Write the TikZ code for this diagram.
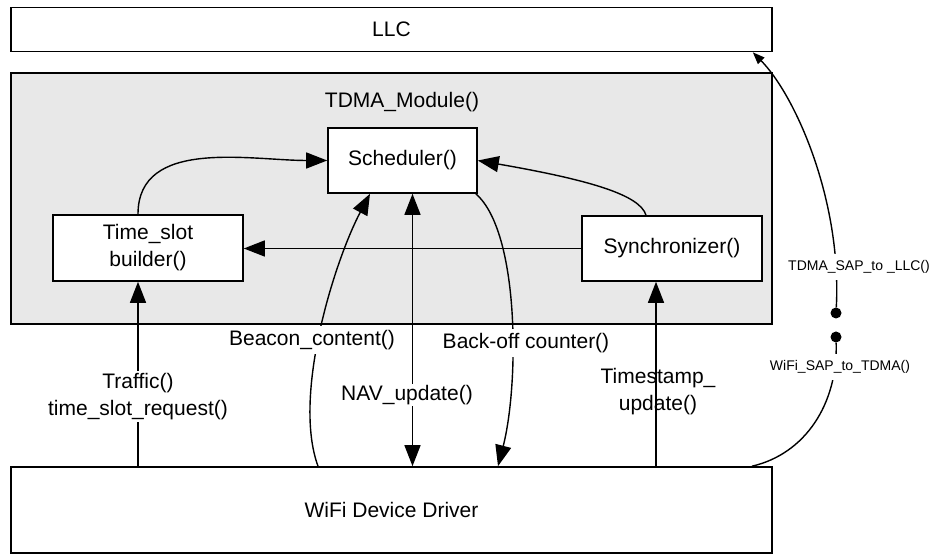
\documentclass[tikz,border=0pt]{standalone}
\usepackage{fontspec}
\setmainfont{Liberation Sans}
\usetikzlibrary{arrows.meta}
\definecolor{modgray}{RGB}{232,232,232}
\begin{document}
\begin{tikzpicture}[x=1pt,y=1pt,
  font=\fontsize{21}{27}\selectfont,
  box/.style={draw, line width=1.6pt, fill=white, inner sep=0pt, align=center},
  conn/.style={line width=1.4pt},
  bigtip/.style={-{Triangle[length=21pt,width=16pt]}},
  bothtip/.style={{Triangle[length=21pt,width=16pt]}-{Triangle[length=21pt,width=16pt]}},
  smalltip/.style={-{Triangle[length=12pt,width=9pt]}},
  lbl/.style={fill=white, inner sep=3pt, align=center},
  smalllbl/.style={fill=white, inner sep=6pt, font=\fontsize{14}{17}\selectfont},
  dot/.style={circle, fill=black, inner sep=0pt, minimum size=11pt}
]
\useasboundingbox (0,0) rectangle (932,554);
% containers and boxes
\node[draw, line width=1.6pt, fill=modgray, minimum width=761pt, minimum height=251pt] (mod) at (391.5,355.5) {};
\node (modlabel) at (402,452) {TDMA\_Module()};
\node[box, minimum width=761pt, minimum height=44pt] (llc) at (391.5,524.5) {LLC};
\node[box, minimum width=149pt, minimum height=65pt] (sched) at (402.5,393.5) {Scheduler()};
\node[box, minimum width=190pt, minimum height=66pt] (ts) at (148,306) {Time\_slot\\builder()};
\node[box, minimum width=180pt, minimum height=65pt] (sync) at (672,305.5) {Synchronizer()};
\node[box, minimum width=761pt, minimum height=86pt] (wifi) at (391.5,44) {WiFi Device Driver};
\node[dot] (d1) at (836,241) {};
\node[dot] (d2) at (836,217) {};
% helper coordinates on box edges
\coordinate (traftop) at ([xshift=-10pt]ts.south);
\coordinate (trafbot) at (traftop |- wifi.north);
\coordinate (navtop) at ([xshift=10pt]sched.south);
\coordinate (navbot) at (navtop |- wifi.north);
\coordinate (tstop) at ([xshift=-16pt]sync.south);
\coordinate (tsbot) at (tstop |- wifi.north);
% connectors inside module
\draw[conn, bigtip] ([xshift=-10pt]ts.north) to[out=90,in=180] (sched.west);
\draw[conn, bigtip] ([xshift=-26pt]sync.north) .. controls (640,359) and (590,374) .. (sched.east);
\draw[conn, bigtip] (sync.west) -- (sync.west -| ts.east);
% connectors from driver
\draw[conn, bigtip] (trafbot) -- (traftop);
\draw[conn, bigtip] ([xshift=-73.5pt]wifi.north) .. controls (292,159) and (335,294) .. ([xshift=-32.5pt]sched.south);
\draw[conn, bothtip] (navtop) -- (navbot);
\draw[conn, bigtip] ([xshift=-2pt]sched.south east) .. controls (520,322) and (519,169) .. ([xshift=106.5pt]wifi.north);
\draw[conn, bigtip] (tsbot) -- (tstop);
% SAP connectors
\draw[conn, smalltip] (d1) .. controls (842,354) and (795,459) .. ([xshift=-20pt]llc.south east);
\draw[conn] ([xshift=360.5pt]wifi.north) .. controls (805,100) and (838,150) .. (d2);
% labels
\node[lbl, inner sep=2pt] (traflbl) at (138,157.5) {Traffic()\\time\_slot\_request()};
\node[lbl, inner sep=4pt] (beaconlbl) at (312,214) {Beacon\_content()};
\node[lbl, inner sep=1.5pt] (navlbl) at (407,159) {NAV\_update()};
\node[lbl, inner sep=4pt] (backlbl) at (526,211) {Back-off counter()};
\node[align=center] (tslbl) at (658,162) {Timestamp\_\\update()};
\node[smalllbl] (sap1) at (859,287) {TDMA\_SAP\_to \_LLC()};
\node[smalllbl] (sap2) at (840,187) {WiFi\_SAP\_to\_TDMA()};
\end{tikzpicture}
\end{document}
